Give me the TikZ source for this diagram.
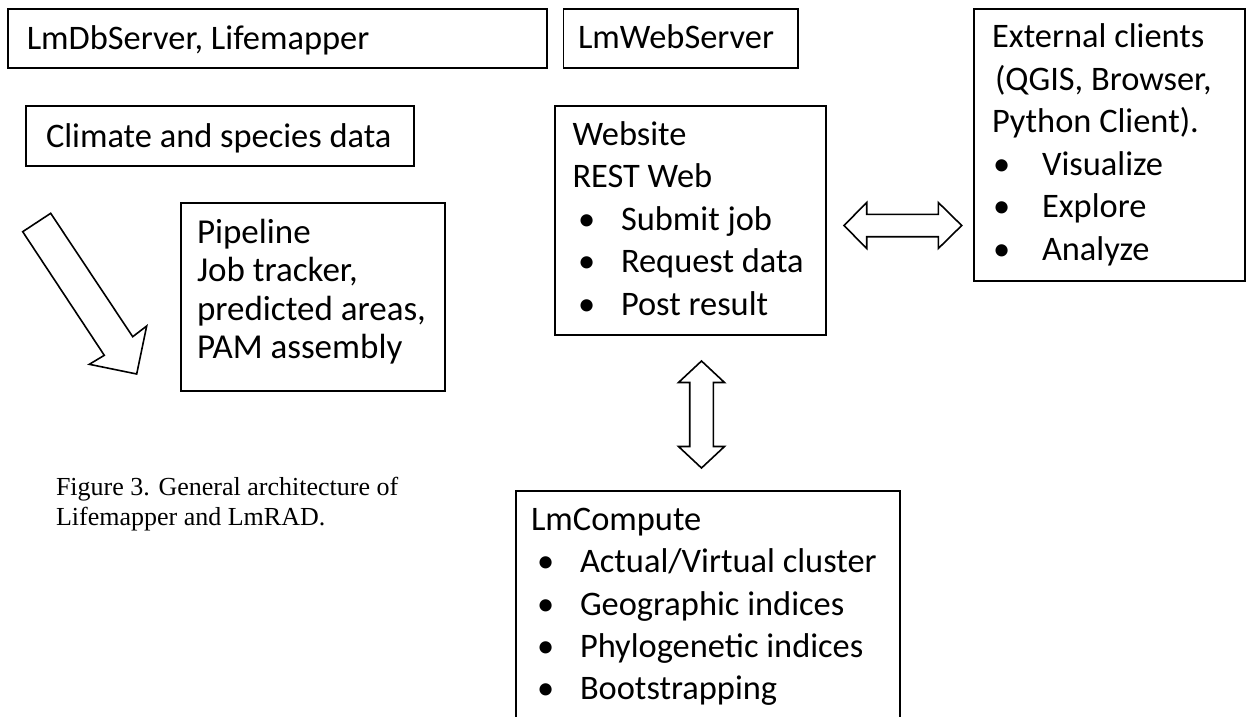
\documentclass[tikz,border=0pt]{standalone}
\usepackage{fontspec}
\setmainfont{Carlito}
\newfontfamily\capfont{Liberation Serif}
\begin{document}
\begin{tikzpicture}[x=1pt,y=-1pt,
  box/.style={draw=black, line width=1.8pt, anchor=north west, inner sep=0pt, outer sep=0pt},
  txt/.style={anchor=base west, inner sep=0pt, outer sep=0pt, font=\fontsize{34.4}{41}\selectfont},
  ptxt/.style={anchor=base west, inner sep=0pt, outer sep=0pt, font=\fontsize{35}{41}\selectfont},
  blockarrow/.style={draw=black, line width=1.6pt, fill=white, line join=miter},
  captxt/.style={anchor=base west, inner sep=0pt, outer sep=0pt, font=\capfont\fontsize{26}{30}\selectfont}]
\useasboundingbox (0,0) rectangle (1248,717);
% boxes
\node[box, minimum width=539pt, minimum height=58.7pt] (db) at (8,9.3) {};
\node[box, minimum width=234.5pt, minimum height=58.7pt] (websrv) at (563.5,9.3) {};
\node[box, minimum width=388.3pt, minimum height=59.7pt] (climate) at (25.7,106) {};
\node[box, minimum width=264.3pt, minimum height=188pt] (pipe) at (180.7,202.7) {};
\node[box, minimum width=271pt, minimum height=229pt] (web) at (555,106) {};
\node[box, minimum width=271pt, minimum height=271.7pt] (ext) at (974,9.3) {};
\node[box, minimum width=384pt, minimum height=260pt] (lmc) at (516,490.7) {};
% top texts
\node[txt] (dbT) at (26.8,49.5) {LmDbServer, Lifemapper};
\node[txt] (websrvT) at (578,49) {LmWebServer};
\node[txt] (climateT) at (46,147) {Climate and species data};
% pipeline
\node[ptxt] (pipe1) at (197,243) {Pipeline};
\node[ptxt] (pipe2) at (197,281.5) {Job tracker,};
\node[ptxt] (pipe3) at (197,320) {predicted areas,};
\node[ptxt] (pipe4) at (197,358.5) {PAM assembly};
% website
\node[txt] (web1) at (572.5,145) {Website};
\node[txt] (web2) at (572.5,187.5) {REST Web};
\node[txt] (webB1) at (578,230) {•};
\node[txt] (webI1) at (621,230) {Submit job};
\node[txt] (webB2) at (578,272.5) {•};
\node[txt] (webI2) at (621,272.5) {Request data};
\node[txt] (webB3) at (578,315) {•};
\node[txt] (webI3) at (621,315) {Post result};
% external
\node[txt] (ext1) at (992,48) {External clients};
\node[txt] (ext2) at (995,90.4) {(QGIS, Browser,};
\node[txt] (ext3) at (992,132.8) {Python Client).};
\node[txt] (extB1) at (993,175.2) {•};
\node[txt] (extI1) at (1042,175.2) {Visualize};
\node[txt] (extB2) at (993,217.6) {•};
\node[txt] (extI2) at (1042,217.6) {Explore};
\node[txt] (extB3) at (993,260) {•};
\node[txt] (extI3) at (1042,260) {Analyze};
% lmcompute
\node[txt] (lmc1) at (531,530) {LmCompute};
\node[txt] (lmcB1) at (537,572.5) {•};
\node[txt] (lmcI1) at (580,572.5) {Actual/Virtual cluster};
\node[txt] (lmcB2) at (537,615) {•};
\node[txt] (lmcI2) at (580,615) {Geographic indices};
\node[txt] (lmcB3) at (537,657.3) {•};
\node[txt] (lmcI3) at (580,657.3) {Phylogenetic indices};
\node[txt] (lmcB4) at (537,699.7) {•};
\node[txt] (lmcI4) at (580,699.7) {Bootstrapping};
% block arrows
\draw[blockarrow] (22.7,231.7) -- (50.7,213.3) -- (132.7,336.7) -- (146.7,326) -- (136.7,374) -- (89.3,364.3) -- (104.3,355.3) -- cycle;
\draw[blockarrow] (844,225.5) -- (866.7,202.5) -- (866.7,214.3) -- (938.3,214.3) -- (938.3,202.5) -- (961.7,225.5) -- (938.3,248.5) -- (938.3,236.7) -- (866.7,236.7) -- (866.7,248.5) -- cycle;
\draw[blockarrow] (701.5,361) -- (724.5,382.5) -- (713.3,382.5) -- (713.3,446.5) -- (724.5,446.5) -- (701.5,468) -- (678.5,446.5) -- (689.7,446.5) -- (689.7,382.5) -- (678.5,382.5) -- cycle;
% caption
\node[captxt] (cap1) at (56,495) {Figure 3. General architecture of};
\node[captxt] (cap2) at (56,525) {Lifemapper and LmRAD.};
\end{tikzpicture}
\end{document}
